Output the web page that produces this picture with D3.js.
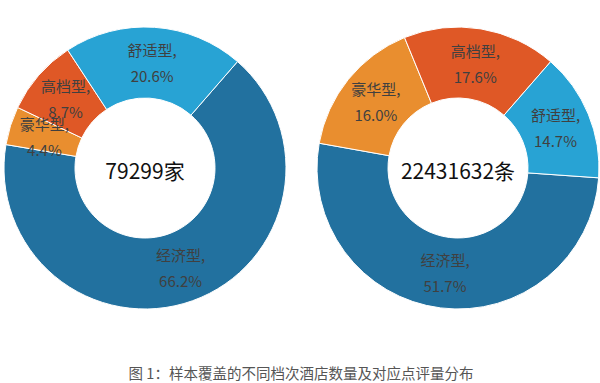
<!DOCTYPE html>
<html>
<head>
<meta charset="utf-8">
<script src="https://cdn.jsdelivr.net/npm/d3@7"></script>
<style>
  html, body { margin: 0; padding: 0; background: #fff; }
  svg { display: block; }
  text { font-family: "Noto Sans CJK SC", "Noto Sans", sans-serif; }
</style>
</head>
<body>
<div id="chart"></div>
<script>
const categories = ["经济型", "豪华型", "高档型", "舒适型"];
const hotelShares = [66.2, 4.4, 8.7, 20.6];
const reviewShares = [51.7, 16.0, 17.6, 14.7];
const centerLabels = ["79299家", "22431632条"];
const startAnglesDeg = [41, 94];
const colors = ["#22719f", "#e98e2f", "#df5826", "#28a3d4"];
const title = "图 1：样本覆盖的不同档次酒店数量及对应点评量分布";

const W = 600, H = 383;
const svg = d3.select("#chart").append("svg").attr("width", W).attr("height", H);

const charts = [
  { values: hotelShares, cx: 145, cy: 168, center: centerLabels[0], start: startAnglesDeg[0] },
  { values: reviewShares, cx: 458, cy: 168, center: centerLabels[1], start: startAnglesDeg[1] }
];

const outerR = 141, innerR = 70;
const color = d3.scaleOrdinal().domain(categories).range(colors);

charts.forEach(c => {
  const data = categories.map((k, i) => ({ key: k, value: c.values[i] }));
  const s = c.start * Math.PI / 180;
  const pie = d3.pie().value(d => d.value).sort(null)
    .startAngle(s).endAngle(s + 2 * Math.PI);
  const arc = d3.arc().innerRadius(innerR).outerRadius(outerR);
  const g = svg.append("g").attr("transform", `translate(${c.cx},${c.cy})`);
  const arcs = pie(data);
  g.selectAll("path").data(arcs).join("path")
    .attr("d", arc)
    .attr("fill", d => color(d.data.key))
    .attr("stroke", "#fff")
    .attr("stroke-width", 1);

  const lbl = g.selectAll("g.lbl").data(arcs).join("g").attr("class", "lbl")
    .attr("transform", d => `translate(${arc.centroid(d)})`);
  lbl.append("text")
    .attr("text-anchor", "middle").attr("dominant-baseline", "central")
    .attr("y", -13).attr("font-size", 15).attr("fill", "#404040")
    .text(d => d.data.key + ",");
  lbl.append("text")
    .attr("text-anchor", "middle").attr("dominant-baseline", "central")
    .attr("y", 13).attr("font-size", 15).attr("fill", "#404040")
    .text(d => d3.format(".1f")(d.data.value) + "%");

  g.append("text")
    .attr("text-anchor", "middle").attr("dominant-baseline", "central")
    .attr("y", 2).attr("font-size", 21).attr("fill", "#111")
    .text(c.center);
});

svg.append("text")
  .attr("x", 301).attr("y", 372)
  .attr("text-anchor", "middle").attr("dominant-baseline", "central")
  .attr("font-size", 14.5).attr("fill", "#555")
  .text(title);
</script>
</body>
</html>
